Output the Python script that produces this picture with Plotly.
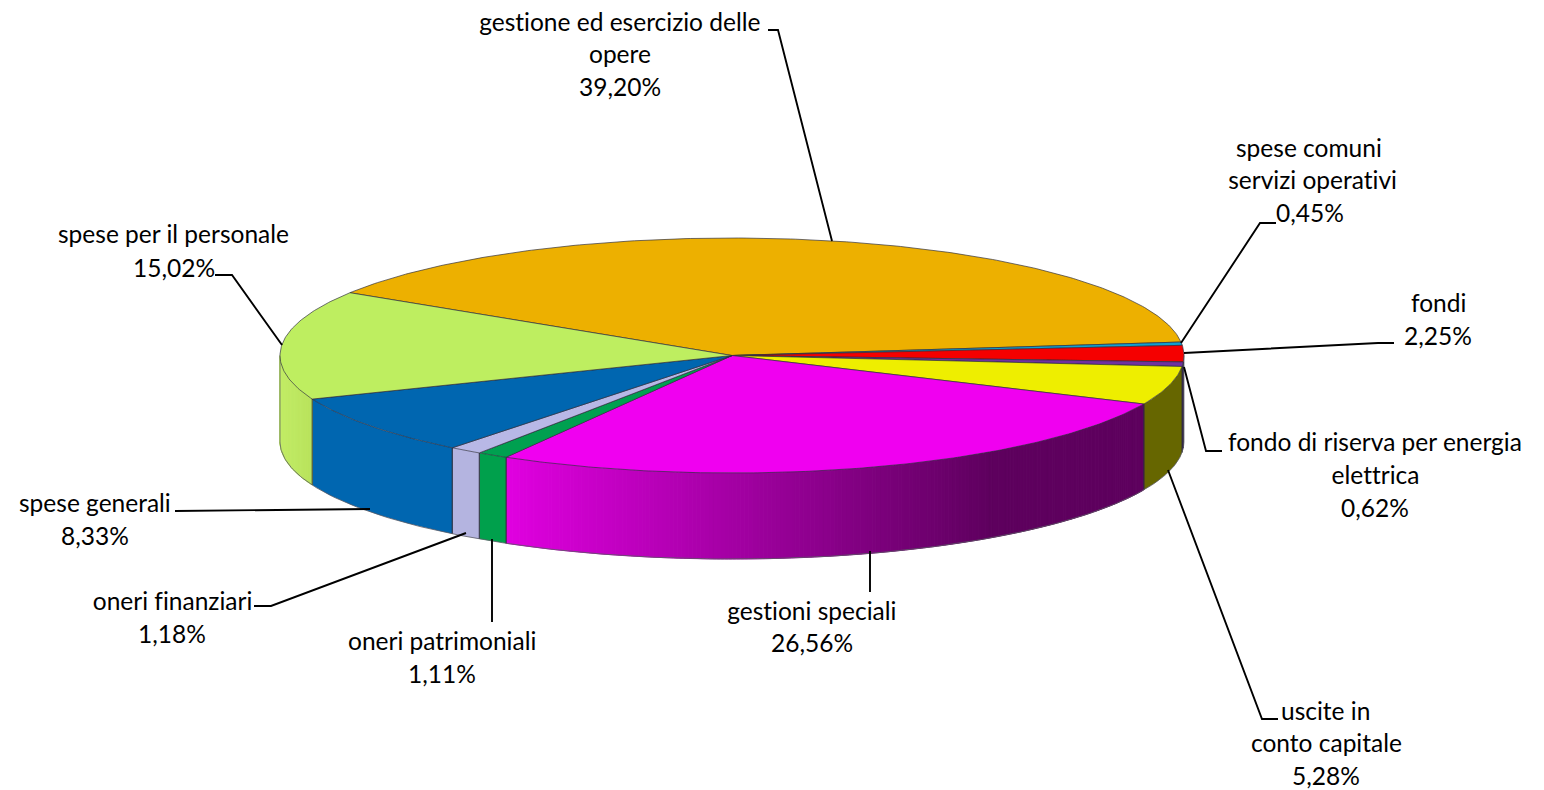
import numpy as np
import plotly.graph_objects as go

# ---------- data ----------
categories = ["gestione ed esercizio delle opere", "spese comuni servizi operativi", "fondi",
              "fondo di riserva per energia elettrica", "uscite in conto capitale", "gestioni speciali",
              "oneri patrimoniali", "oneri finanziari", "spese generali", "spese per il personale"]
values = [39.20, 0.45, 2.25, 0.62, 5.28, 26.56, 1.11, 1.18, 8.33, 15.02]
value_labels = ["39,20%", "0,45%", "2,25%", "0,62%", "5,28%", "26,56%", "1,11%", "1,18%", "8,33%", "15,02%"]

# ---------- style ----------
top_colors = ["#EDB000", "#0FA0D0", "#F50000", "#7030A0", "#EEEE00", "#F000F0",
              "#00A050", "#B8B8E6", "#0066B0", "#BEEE60"]
side_from = ["#C09000", "#0C80A8", "#A00000", "#502078", "#666600", "#E000E0",
             "#00A04C", "#B4B4E0", "#0066B0", "#C2EC66"]
side_to = ["#C09000", "#0C80A8", "#A00000", "#502078", "#666600", "#5E005E",
           "#00A04C", "#B4B4E0", "#0066B0", "#B8E25C"]
side_stop = [1, 1, 1, 1, 1, 0.76, 1, 1, 1, 1]  # share of the on-screen width the gradient spans
EDGE = "rgba(45,45,60,0.75)"
FONT = "Lato"
FONT_SIZE = 24.5

# ---------- layout geometry ----------
CX, CY, RX, RY, DEPTH = 732.0, 355.5, 452.0, 117.5, 86.0
START = -57.7  # degrees clockwise from 12 o'clock
label_lines = [
    [("gestione ed esercizio delle", 620, 21), ("opere", 620, 53), ("39,20%", 620, 86)],
    [("spese comuni", 1309, 147), ("servizi operativi", 1312, 179), ("0,45%", 1310, 212)],
    [("fondi", 1438, 302), ("2,25%", 1438, 335)],
    [("fondo di riserva per energia", 1375, 441), ("elettrica", 1375, 474), ("0,62%", 1375, 507)],
    [("uscite in", 1325, 710), ("conto capitale", 1326, 742), ("5,28%", 1326, 775)],
    [("gestioni speciali", 812, 610), ("26,56%", 812, 642)],
    [("oneri patrimoniali", 442, 640), ("1,11%", 442, 673)],
    [("oneri finanziari", 172, 600), ("1,18%", 172, 633)],
    [("spese generali", 95, 502), ("8,33%", 95, 535)],
    [("spese per il personale", 173, 233), ("15,02%", 174, 267)],
]
leaders = [
    ([768, 778, 832], [30, 30, 241]),
    ([1276, 1260, 1181], [223, 223, 343]),
    ([1394, 1378, 1184], [343, 343, 353]),
    ([1222, 1206, 1184], [451, 451, 367]),
    ([1278, 1262, 1168], [719, 719, 470]),
    ([870, 870], [592, 551]),
    ([492, 492], [622, 539]),
    ([254, 271, 466], [606, 606, 533]),
    ([175, 370], [511, 509]),
    ([215, 232, 282], [275, 275, 345]),
]


def pt(a, dz=0.0):
    r = np.radians(a)
    return CX + RX * np.sin(r), CY - RY * np.cos(r) + dz


def mix(c1, c2, t):
    a = [int(c1[i:i + 2], 16) for i in (1, 3, 5)]
    b = [int(c2[i:i + 2], 16) for i in (1, 3, 5)]
    return "rgb(%d,%d,%d)" % tuple(round(p + (q - p) * t) for p, q in zip(a, b))


def poly(xs, ys, fill=None, line=None, width=1.0, name=None):
    return go.Scatter(x=list(xs), y=list(ys), mode="lines", hoverinfo="skip", showlegend=False,
                      fill="toself" if fill else None, fillcolor=fill, name=name,
                      line=dict(color=line or "rgba(0,0,0,0)", width=width))


fig = go.Figure()
cum = np.concatenate([[0], np.cumsum(values)]) / sum(values) * 360 + START

# side wall (only the front half of the rim is visible: 90..270 deg clockwise from top)
for i in range(len(values)):
    a0, a1 = max(cum[i], 90), min(cum[i + 1], 270)
    if a1 <= a0:
        continue
    gradient = side_from[i] != side_to[i]
    n = max(2, int((a1 - a0) / 0.5)) if gradient else 1
    edges = np.linspace(a0, a1, n + 1)
    x_left, x_right = pt(a1)[0], pt(a0)[0]
    for k in range(n):
        arc = np.linspace(edges[k], edges[k + 1], 40 if not gradient else 3)
        xt, yt = pt(arc)
        xb, yb = pt(arc[::-1], DEPTH)
        xs = np.concatenate([xt, xb, xt[:1]])
        ys = np.concatenate([yt, yb, yt[:1]])
        # gradient runs from left to right on screen, then holds its last colour
        t = min(1.0, (xt.mean() - x_left) / (x_right - x_left) / side_stop[i])
        c = mix(side_from[i], side_to[i], t)
        fig.add_trace(poly(xs, ys, fill=c, line=c if gradient else None, width=1.0))
    # dividing edges
    for a in (a0, a1):
        if 90 < a < 270:
            x0, y0 = pt(a)
            x1, y1 = pt(a, DEPTH)
            fig.add_trace(poly([x0, x1], [y0, y1], line=EDGE, width=1.2))

# outer vertical silhouettes and bottom rim
rim = np.linspace(90, 270, 240)
xr, yr = pt(rim, DEPTH)
fig.add_trace(poly(xr, yr, line="rgba(90,90,100,0.8)", width=1.0))
for a in (90, 270):
    x0, y0 = pt(a)
    x1, y1 = pt(a, DEPTH)
    fig.add_trace(poly([x0, x1], [y0, y1], line="rgba(90,90,100,0.7)", width=1.0))

# top face wedges
for i, v in enumerate(values):
    arc = np.linspace(cum[i], cum[i + 1], max(3, int(v * 6)))
    xa, ya = pt(arc)
    xs = np.concatenate([[CX], xa, [CX]])
    ys = np.concatenate([[CY], ya, [CY]])
    fig.add_trace(poly(xs, ys, fill=top_colors[i], line=EDGE, width=0.9, name=categories[i]))

# leaders
for lx, ly in leaders:
    fig.add_trace(poly(lx, ly, line="black", width=1.9))

# labels
annotations = []
for lines in label_lines:
    for text, x, y in lines:
        annotations.append(dict(x=x, y=y, xref="x", yref="y", text=text, showarrow=False,
                                xanchor="center", yanchor="middle",
                                font=dict(family=FONT, size=FONT_SIZE, color="black")))

fig.update_layout(
    width=1544, height=790, margin=dict(l=0, r=0, t=0, b=0),
    paper_bgcolor="white", plot_bgcolor="white", showlegend=False,
    xaxis=dict(range=[0, 1544], visible=False, fixedrange=True),
    yaxis=dict(range=[790, 0], visible=False, fixedrange=True),
    annotations=annotations,
)
fig.write_html("out.html", config=dict(displayModeBar=False),
               post_script="document.body.style.margin='0';document.body.style.overflow='hidden';"
                           "var s=document.createElement('style');"
                           "s.textContent='text{font-variant-ligatures:none !important}';"
                           "document.head.appendChild(s);")
